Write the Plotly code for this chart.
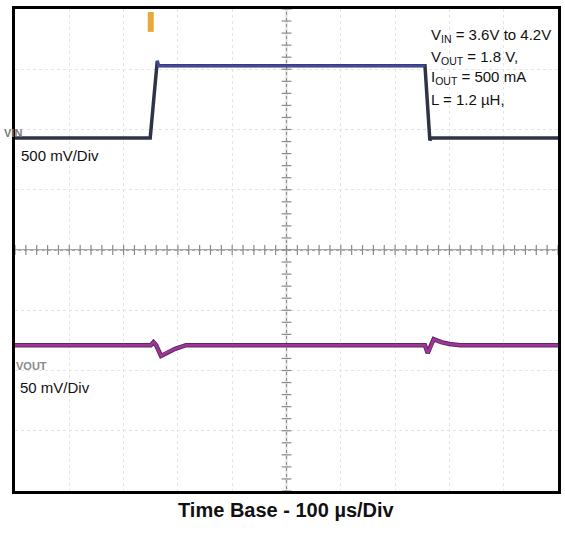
import numpy as np
import plotly.graph_objects as go

# ---- data (time in microseconds) ----
vin_time_us = [0, 249, 262, 264, 268, 755, 764, 767, 1000]
vin_volts = [3.6, 3.6, 4.24, 4.2, 4.2, 4.2, 3.58, 3.6, 3.6]

vout_time_us = [0, 250, 255, 260, 269, 280, 295, 315, 755, 760, 766, 771, 785, 800, 820, 1000]
vout_dev_mv = [0, 0, 2.5, 0, -9, -6, -3, 0, 0, -6.5, -1, 5, 2.5, 1, 0, 0]

trigger_time_us = [250, 250]

# scope settings
time_per_div_us = 100
vin_mv_per_div = 500
vout_mv_per_div = 50
vin_ref_volts = 3.6
vin_ref_div = 1.86
vout_ref_div = -1.58

vin_div = [vin_ref_div + (v - vin_ref_volts) * 1000 / vin_mv_per_div for v in vin_volts]
vout_div = [vout_ref_div + m / vout_mv_per_div for m in vout_dev_mv]

FONT = "Arial, Liberation Sans, sans-serif"

fig = go.Figure()

# graticule centre cross minor ticks
xt = np.arange(0, 1001, 20)
yt = np.arange(-4, 4.01, 0.2)
fig.add_trace(go.Scatter(x=xt, y=np.zeros_like(xt, dtype=float), mode="markers",
                         marker=dict(symbol="line-ns-open", size=7, color="#8a8a8a", line=dict(width=1.2)),
                         hoverinfo="skip", showlegend=False))
fig.add_trace(go.Scatter(x=np.full_like(yt, 500), y=yt, mode="markers",
                         marker=dict(symbol="line-ew-open", size=7, color="#8a8a8a", line=dict(width=1.2)),
                         hoverinfo="skip", showlegend=False))

# VIN trace: dark base, blue high segment
fig.add_trace(go.Scatter(x=vin_time_us, y=vin_div, mode="lines",
                         line=dict(color="#2e3446", width=3.5), hoverinfo="skip", showlegend=False))
hi_t = vin_time_us[2:6]
hi_y = vin_div[2:6]
fig.add_trace(go.Scatter(x=hi_t, y=hi_y, mode="lines",
                         line=dict(color="#4048a8", width=2.5), hoverinfo="skip", showlegend=False))

# VOUT trace
fig.add_trace(go.Scatter(x=vout_time_us, y=vout_div, mode="lines",
                         line=dict(color="#5a2a60", width=4.5), hoverinfo="skip", showlegend=False))
fig.add_trace(go.Scatter(x=vout_time_us, y=vout_div, mode="lines",
                         line=dict(color="#a2359c", width=2.5), hoverinfo="skip", showlegend=False))

# trigger marker
fig.add_trace(go.Scatter(x=trigger_time_us, y=[3.95, 3.62], mode="lines",
                         line=dict(color="#e8a93a", width=6), hoverinfo="skip", showlegend=False))

fig.update_xaxes(range=[0, 1000], dtick=time_per_div_us, tick0=0, showticklabels=False,
                 showgrid=True, gridcolor="#e4e4e4", griddash="dot", gridwidth=1,
                 zeroline=False, showline=True, linecolor="black", linewidth=3, mirror=True,
                 ticks="")
fig.update_yaxes(range=[-4, 4], dtick=1, tick0=0, showticklabels=False,
                 showgrid=True, gridcolor="#e4e4e4", griddash="dot", gridwidth=1,
                 zeroline=False, showline=True, linecolor="black", linewidth=3, mirror=True,
                 ticks="")

fig.add_shape(type="line", x0=0, x1=1000, y0=0, y1=0, line=dict(color="#8a8a8a", width=1.3), layer="below")
fig.add_shape(type="line", x0=500, x1=500, y0=-4, y1=4, line=dict(color="#8a8a8a", width=1.3), layer="below")

ann = []
info = [
    ("V<sub>IN</sub> = 3.6V to 4.2V", 0.944),
    ("V<sub>OUT</sub> = 1.8 V,", 0.900),
    ("I<sub>OUT</sub> = 500 mA", 0.857),
    ("L = 1.2 \u00b5H,", 0.813),
]
for txt, yy in info:
    ann.append(dict(x=0.762, y=yy, xref="paper", yref="paper", text=txt, showarrow=False,
                    xanchor="left", yanchor="middle", font=dict(family=FONT, size=15, color="#111")))
ann.append(dict(x=0.008, y=0.697, xref="paper", yref="paper", text="500 mV/Div", showarrow=False,
                xanchor="left", yanchor="middle", font=dict(family=FONT, size=15, color="#111")))
ann.append(dict(x=0.006, y=0.214, xref="paper", yref="paper", text="50 mV/Div", showarrow=False,
                xanchor="left", yanchor="middle", font=dict(family=FONT, size=15, color="#111")))
ann.append(dict(x=-0.024, y=0.742, xref="paper", yref="paper", text="<b>VIN</b>", showarrow=False,
                xanchor="left", yanchor="middle", font=dict(family=FONT, size=11, color="#7a7a7a")))
ann.append(dict(x=-0.002, y=0.26, xref="paper", yref="paper", text="<b>VOUT</b>", showarrow=False,
                xanchor="left", yanchor="middle", font=dict(family=FONT, size=11, color="#8a8a8a")))
ann.append(dict(x=0.5, y=-0.039, xref="paper", yref="paper", text="<b>Time Base - 100 \u00b5s/Div</b>",
                showarrow=False, xanchor="center", yanchor="middle",
                font=dict(family=FONT, size=20, color="#111")))

fig.update_layout(width=565, height=533, margin=dict(l=15, r=4, t=9, b=42),
                  paper_bgcolor="white", plot_bgcolor="white", annotations=ann,
                  showlegend=False)

fig.write_html("out.html", config={"displayModeBar": False},
               post_script="document.body.style.margin='0';document.body.style.overflow='hidden';")
